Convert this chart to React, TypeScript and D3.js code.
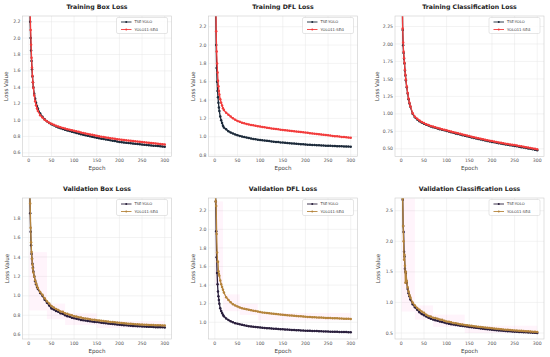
import React from 'react';
import * as d3 from 'd3';

// epochs sampled from the curves (every epoch early on, then every 5)
const epochs = [1, 2, 3, 4, 5, 6, 7, 8, 9, 10, 12, 14, 16, 18,
  20, 25, 30, 35, 40, 45, 50, 55, 60, 65, 70, 75, 80, 85, 90, 95, 100,
  105, 110, 115, 120, 125, 130, 135, 140, 145, 150, 155, 160, 165, 170, 175, 180, 185, 190, 195, 200,
  205, 210, 215, 220, 225, 230, 235, 240, 245, 250, 255, 260, 265, 270, 275, 280, 285, 290, 295, 300];

const seriesNames = ['TSE-YOLO', 'YOLO11-SEG'];
const xTicks = [0, 50, 100, 150, 200, 250, 300];

// training box loss
const tseTrainBox = [3.2, 2.6, 2.2, 2.0, 1.85, 1.72, 1.62, 1.53, 1.46, 1.40, 1.32, 1.26, 1.21, 1.17,
  1.14, 1.08, 1.04, 1.01, 0.985, 0.965, 0.948, 0.935, 0.922, 0.91, 0.90, 0.89, 0.881, 0.873, 0.865, 0.857, 0.850,
  0.842, 0.835, 0.828, 0.821, 0.814, 0.808, 0.801, 0.795, 0.789, 0.783, 0.778, 0.773, 0.768, 0.763, 0.758, 0.753, 0.748, 0.743, 0.738, 0.733,
  0.729, 0.725, 0.722, 0.719, 0.716, 0.713, 0.710, 0.707, 0.704, 0.701, 0.698, 0.695, 0.692, 0.690, 0.687, 0.685, 0.682, 0.680, 0.677, 0.674];
const yoloTrainBox = [3.3, 2.7, 2.3, 2.1, 1.92, 1.76, 1.64, 1.54, 1.46, 1.39, 1.30, 1.23, 1.18, 1.14,
  1.11, 1.06, 1.03, 1.005, 0.985, 0.968, 0.954, 0.942, 0.931, 0.921, 0.912, 0.904, 0.896, 0.889, 0.882, 0.876, 0.870,
  0.863, 0.856, 0.849, 0.843, 0.837, 0.831, 0.825, 0.819, 0.813, 0.807, 0.802, 0.797, 0.793, 0.788, 0.784, 0.779, 0.775, 0.771, 0.767, 0.763,
  0.759, 0.756, 0.752, 0.749, 0.746, 0.743, 0.740, 0.737, 0.734, 0.731, 0.728, 0.725, 0.722, 0.720, 0.717, 0.714, 0.711, 0.709, 0.706, 0.703];

// training DFL loss
const tseTrainDfl = [3.0, 2.4, 2.0, 1.75, 1.6, 1.5, 1.43, 1.37, 1.32, 1.28, 1.22, 1.18, 1.15, 1.12,
  1.10, 1.08, 1.06, 1.045, 1.035, 1.025, 1.017, 1.009, 1.002, 0.996, 0.99, 0.985, 0.98, 0.976, 0.972, 0.968, 0.965,
  0.961, 0.958, 0.955, 0.952, 0.949, 0.946, 0.943, 0.941, 0.938, 0.936, 0.933, 0.931, 0.929, 0.927, 0.925, 0.923, 0.921, 0.919, 0.917, 0.915,
  0.913, 0.912, 0.910, 0.909, 0.907, 0.906, 0.905, 0.903, 0.902, 0.901, 0.900, 0.899, 0.898, 0.897, 0.896, 0.895, 0.894, 0.893, 0.892, 0.891];
const yoloTrainDfl = [3.2, 2.6, 2.15, 1.93, 1.8, 1.7, 1.61, 1.55, 1.5, 1.46, 1.41, 1.37, 1.34, 1.31,
  1.29, 1.26, 1.24, 1.22, 1.20, 1.185, 1.172, 1.162, 1.153, 1.146, 1.139, 1.134, 1.129, 1.124, 1.119, 1.115, 1.11,
  1.106, 1.102, 1.098, 1.094, 1.090, 1.087, 1.083, 1.080, 1.077, 1.074, 1.071, 1.068, 1.065, 1.062, 1.059, 1.056, 1.054, 1.051, 1.048, 1.045,
  1.042, 1.039, 1.036, 1.033, 1.030, 1.027, 1.024, 1.021, 1.018, 1.015, 1.012, 1.009, 1.006, 1.004, 1.001, 0.998, 0.996, 0.993, 0.990, 0.988];

// training classification loss
const tseTrainCls = [3.6, 2.7, 2.2, 1.98, 1.87, 1.79, 1.72, 1.62, 1.55, 1.48, 1.38, 1.29, 1.21, 1.15,
  1.10, 1.0, 0.95, 0.92, 0.895, 0.875, 0.86, 0.845, 0.832, 0.82, 0.81, 0.80, 0.79, 0.781, 0.772, 0.764, 0.755,
  0.746, 0.737, 0.728, 0.719, 0.711, 0.703, 0.695, 0.687, 0.679, 0.671, 0.663, 0.655, 0.648, 0.641, 0.634, 0.627, 0.620, 0.613, 0.606, 0.599,
  0.593, 0.587, 0.581, 0.575, 0.569, 0.563, 0.557, 0.552, 0.547, 0.542, 0.536, 0.530, 0.524, 0.518, 0.512, 0.506, 0.500, 0.494, 0.488, 0.480];
const yoloTrainCls = [3.7, 2.75, 2.22, 2.02, 1.89, 1.80, 1.73, 1.63, 1.56, 1.49, 1.39, 1.30, 1.22, 1.16,
  1.11, 1.01, 0.96, 0.93, 0.905, 0.885, 0.868, 0.853, 0.84, 0.828, 0.818, 0.808, 0.798, 0.789, 0.78, 0.772, 0.764,
  0.756, 0.747, 0.738, 0.730, 0.722, 0.714, 0.706, 0.698, 0.690, 0.682, 0.674, 0.666, 0.659, 0.652, 0.645, 0.638, 0.631, 0.624, 0.617, 0.610,
  0.604, 0.598, 0.592, 0.586, 0.580, 0.574, 0.568, 0.563, 0.558, 0.553, 0.548, 0.542, 0.536, 0.530, 0.524, 0.518, 0.512, 0.506, 0.500, 0.493];

// validation box loss
const tseValBox = [2.4, 2.1, 1.85, 1.66, 1.52, 1.43, 1.38, 1.33, 1.29, 1.25, 1.20, 1.15, 1.12, 1.09,
  1.07, 1.03, 1.0, 0.96, 0.93, 0.90, 0.87, 0.86, 0.845, 0.835, 0.82, 0.815, 0.80, 0.79, 0.785, 0.775, 0.77,
  0.765, 0.76, 0.752, 0.75, 0.745, 0.742, 0.738, 0.736, 0.731, 0.73, 0.727, 0.724, 0.72, 0.719, 0.715, 0.713, 0.71, 0.708, 0.705, 0.703,
  0.70, 0.698, 0.697, 0.694, 0.693, 0.69, 0.689, 0.688, 0.686, 0.685, 0.684, 0.683, 0.681, 0.681, 0.679, 0.678, 0.677, 0.677, 0.676, 0.675];
const yoloValBox = [2.3, 2.05, 1.95, 1.7, 1.55, 1.45, 1.38, 1.32, 1.28, 1.24, 1.2, 1.16, 1.13, 1.1,
  1.08, 1.04, 1.01, 0.975, 0.945, 0.92, 0.895, 0.88, 0.865, 0.855, 0.84, 0.835, 0.82, 0.815, 0.805, 0.80, 0.79,
  0.787, 0.78, 0.777, 0.77, 0.768, 0.763, 0.76, 0.755, 0.754, 0.75, 0.747, 0.744, 0.74, 0.738, 0.735, 0.732, 0.73, 0.727, 0.725, 0.722,
  0.72, 0.718, 0.716, 0.714, 0.712, 0.71, 0.708, 0.707, 0.705, 0.704, 0.703, 0.702, 0.70, 0.70, 0.699, 0.698, 0.697, 0.697, 0.696, 0.696];

// validation DFL loss
const tseValDfl = [2.6, 2.3, 1.98, 1.7, 1.53, 1.41, 1.33, 1.28, 1.24, 1.2, 1.15, 1.12, 1.10, 1.08,
  1.065, 1.04, 1.025, 1.01, 1.0, 0.99, 0.985, 0.978, 0.972, 0.967, 0.962, 0.958, 0.955, 0.952, 0.949, 0.946, 0.944,
  0.941, 0.939, 0.937, 0.935, 0.933, 0.931, 0.929, 0.927, 0.926, 0.924, 0.922, 0.921, 0.919, 0.918, 0.916, 0.915, 0.914, 0.912, 0.911, 0.91,
  0.909, 0.908, 0.907, 0.906, 0.905, 0.904, 0.903, 0.902, 0.901, 0.90, 0.899, 0.898, 0.897, 0.897, 0.896, 0.895, 0.894, 0.894, 0.893, 0.892];
const yoloValDfl = [2.4, 2.3, 2.25, 1.95, 1.75, 1.65, 1.65, 1.55, 1.52, 1.5, 1.45, 1.41, 1.38, 1.35,
  1.32, 1.27, 1.24, 1.215, 1.195, 1.18, 1.17, 1.16, 1.15, 1.145, 1.14, 1.135, 1.13, 1.125, 1.12, 1.115, 1.11,
  1.106, 1.103, 1.1, 1.097, 1.094, 1.091, 1.088, 1.086, 1.083, 1.081, 1.078, 1.076, 1.074, 1.072, 1.07, 1.068, 1.066, 1.064, 1.062, 1.06,
  1.058, 1.057, 1.055, 1.054, 1.052, 1.051, 1.05, 1.048, 1.047, 1.046, 1.045, 1.044, 1.043, 1.042, 1.041, 1.04, 1.039, 1.038, 1.037, 1.036];

// validation classification loss
const tseValCls = [3.2, 2.9, 2.68, 2.25, 2.15, 1.83, 1.75, 1.55, 1.5, 1.48, 1.32, 1.22, 1.15, 1.1,
  1.05, 0.97, 0.92, 0.88, 0.84, 0.81, 0.79, 0.77, 0.75, 0.735, 0.72, 0.71, 0.70, 0.69, 0.68, 0.67, 0.66,
  0.652, 0.645, 0.638, 0.632, 0.626, 0.62, 0.615, 0.61, 0.605, 0.60, 0.595, 0.59, 0.585, 0.58, 0.575, 0.571, 0.567, 0.563, 0.559, 0.555,
  0.551, 0.547, 0.543, 0.540, 0.536, 0.533, 0.530, 0.527, 0.525, 0.522, 0.52, 0.518, 0.515, 0.513, 0.511, 0.509, 0.507, 0.505, 0.503, 0.50];
const yoloValCls = [3.1, 2.8, 2.7, 2.25, 2.0, 1.7, 1.78, 1.6, 1.32, 1.5, 1.35, 1.25, 1.18, 1.12,
  1.08, 1.0, 0.95, 0.91, 0.88, 0.85, 0.83, 0.8, 0.78, 0.77, 0.75, 0.745, 0.735, 0.72, 0.715, 0.70, 0.69,
  0.685, 0.675, 0.665, 0.66, 0.652, 0.645, 0.64, 0.633, 0.628, 0.622, 0.617, 0.612, 0.607, 0.602, 0.598, 0.593, 0.589, 0.585, 0.581, 0.577,
  0.573, 0.569, 0.565, 0.562, 0.558, 0.555, 0.552, 0.549, 0.546, 0.543, 0.54, 0.537, 0.535, 0.532, 0.53, 0.527, 0.525, 0.522, 0.52, 0.517];

// faint pink range bands on the validation plots: [startEpoch, endEpoch, low, high]
const valBoxBands = [[1, 40, 0.85, 1.45], [40, 80, 0.76, 0.92], [80, 150, 0.70, 0.82], [150, 300, 0.67, 0.74]];
const valDflBands = [[1, 18, 1.4, 2.3], [18, 55, 1.12, 1.3], [55, 95, 1.08, 1.2], [95, 300, 1.02, 1.1]];
const valClsBands = [[1, 30, 0.85, 2.7], [30, 70, 0.72, 0.95], [70, 140, 0.6, 0.8], [140, 300, 0.5, 0.62]];

const NAVY = '#1c2a3a';
const VAL_NAVY = '#2a1f3d';
const RED = '#f23c3c';
const OLIVE = '#b5843c';
const FONT = 'DejaVu Sans, sans-serif';

const panels = [
  { title: 'Training Box Loss', tse: tseTrainBox, yolo: yoloTrainBox, color: RED, dark: NAVY, x: [22.5, 171.5], y: [16, 156.5], yDom: [0.555, 2.27], yTicks: [0.6, 0.8, 1.0, 1.2, 1.4, 1.6, 1.8, 2.0, 2.2], fmt: '.1f', bands: [], yl: 6 },
  { title: 'Training DFL Loss', tse: tseTrainDfl, yolo: yoloTrainDfl, color: RED, dark: NAVY, x: [208.5, 357.5], y: [16, 156.5], yDom: [0.784, 2.317], yTicks: [0.8, 1.0, 1.2, 1.4, 1.6, 1.8, 2.0, 2.2], fmt: '.1f', bands: [], yl: 193 },
  { title: 'Training Classification Loss', tse: tseTrainCls, yolo: yoloTrainCls, color: RED, dark: NAVY, x: [395, 544], y: [16, 156.5], yDom: [0.39, 2.40], yTicks: [0.5, 0.75, 1.0, 1.25, 1.5, 1.75, 2.0, 2.25], fmt: '.2f', bands: [], yl: 377 },
  { title: 'Validation Box Loss', tse: tseValBox, yolo: yoloValBox, color: OLIVE, dark: VAL_NAVY, x: [22.5, 171.5], y: [198, 339], yDom: [0.556, 2.006], yTicks: [0.6, 0.8, 1.0, 1.2, 1.4, 1.6, 1.8], fmt: '.1f', bands: valBoxBands, yl: 6.5 },
  { title: 'Validation DFL Loss', tse: tseValDfl, yolo: yoloValDfl, color: OLIVE, dark: VAL_NAVY, x: [208.5, 357.5], y: [198, 339], yDom: [0.82, 2.337], yTicks: [1.0, 1.2, 1.4, 1.6, 1.8, 2.0, 2.2], fmt: '.1f', bands: valDflBands, yl: 193 },
  { title: 'Validation Classification Loss', tse: tseValCls, yolo: yoloValCls, color: OLIVE, dark: VAL_NAVY, x: [395, 544], y: [198, 339], yDom: [0.402, 2.708], yTicks: [0.5, 1.0, 1.5, 2.0, 2.5], fmt: '.1f', bands: valClsBands, yl: 378 },
];

const Panel = ({ p, i }) => {
  const x = d3.scaleLinear().domain([-13.95, 314.95]).range(p.x);
  const y = d3.scaleLinear().domain(p.yDom).range([p.y[1], p.y[0]]);
  const fmt = d3.format(p.fmt);
  const line = d3.line<number>().x((_, k) => x(epochs[k])).y(d => y(d));
  const cx = (p.x[0] + p.x[1]) / 2;
  const cy = (p.y[0] + p.y[1]) / 2;
  const lgW = 51;
  const lgX = p.x[1] - lgW - 4;
  const lgY = p.y[0] + 1.5;
  const series = [
    { name: seriesNames[0], values: p.tse, color: p.dark },
    { name: seriesNames[1], values: p.yolo, color: p.color },
  ];
  return (
    <g>
      <defs>
        <clipPath id={`clip${i}`}>
          <rect x={p.x[0]} y={p.y[0]} width={p.x[1] - p.x[0]} height={p.y[1] - p.y[0]} />
        </clipPath>
      </defs>
      {xTicks.map(t => (
        <line key={'gx' + t} x1={x(t)} x2={x(t)} y1={p.y[0]} y2={p.y[1]} stroke="#e6e6e6" strokeWidth={0.5} />
      ))}
      {p.yTicks.map(t => (
        <line key={'gy' + t} x1={p.x[0]} x2={p.x[1]} y1={y(t)} y2={y(t)} stroke="#e6e6e6" strokeWidth={0.5} />
      ))}
      <g clipPath={`url(#clip${i})`}>
        {p.bands.map((b, k) => (
          <rect key={'b' + k} x={x(b[0])} y={y(b[3])} width={x(b[1]) - x(b[0])} height={y(b[2]) - y(b[3])}
            fill="#ff66cc" opacity={0.07} />
        ))}
        {series.map(s => (
          <g key={s.name}>
            <path d={line(s.values) || ''} fill="none" stroke={s.color} strokeWidth={1.3} />
            {s.values.map((v, k) => (
              <circle key={k} cx={x(epochs[k])} cy={y(v)} r={1.25} fill={s.color} />
            ))}
          </g>
        ))}
      </g>
      <rect x={p.x[0]} y={p.y[0]} width={p.x[1] - p.x[0]} height={p.y[1] - p.y[0]} fill="none" stroke="#cccccc" strokeWidth={0.6} />
      {xTicks.map(t => (
        <text key={'tx' + t} x={x(t)} y={p.y[1] + 5.8} fontSize={4.6} fill="#555" textAnchor="middle">{t}</text>
      ))}
      {p.yTicks.map(t => (
        <text key={'ty' + t} x={p.x[0] - 2} y={y(t) + 1.6} fontSize={4.6} fill="#555" textAnchor="end">{fmt(t)}</text>
      ))}
      <text x={cx} y={p.y[0] - 7} fontSize={6.2} fontWeight="bold" fill="#222" textAnchor="middle">{p.title}</text>
      <text x={cx} y={p.y[1] + 13.5} fontSize={5.6} fill="#444" textAnchor="middle">Epoch</text>
      <text transform={`translate(${p.yl},${cy}) rotate(-90)`} y={2} fontSize={5.6} fill="#444" textAnchor="middle">Loss Value</text>
      <rect x={lgX} y={lgY} width={lgW} height={16} rx={1.5} fill="#fff" fillOpacity={0.85} stroke="#cccccc" strokeWidth={0.5} />
      {series.map((s, k) => (
        <g key={'lg' + k}>
          <line x1={lgX + 4.5} x2={lgX + 15} y1={lgY + 4.5 + k * 7.5} y2={lgY + 4.5 + k * 7.5} stroke={s.color} strokeWidth={0.9} />
          <circle cx={lgX + 9.75} cy={lgY + 4.5 + k * 7.5} r={1} fill={s.color} />
          <text x={lgX + 18} y={lgY + 5.8 + k * 7.5} fontSize={3.7} fill="#333">{s.name}</text>
        </g>
      ))}
    </g>
  );
};

export default function App() {
  return (
    <svg width={550} height={357} style={{ position: 'absolute', left: 0, top: 0, background: '#fff' }} fontFamily={FONT}>
      <rect width={550} height={357} fill="#fff" />
      {panels.map((p, i) => <Panel key={i} p={p} i={i} />)}
    </svg>
  );
}
